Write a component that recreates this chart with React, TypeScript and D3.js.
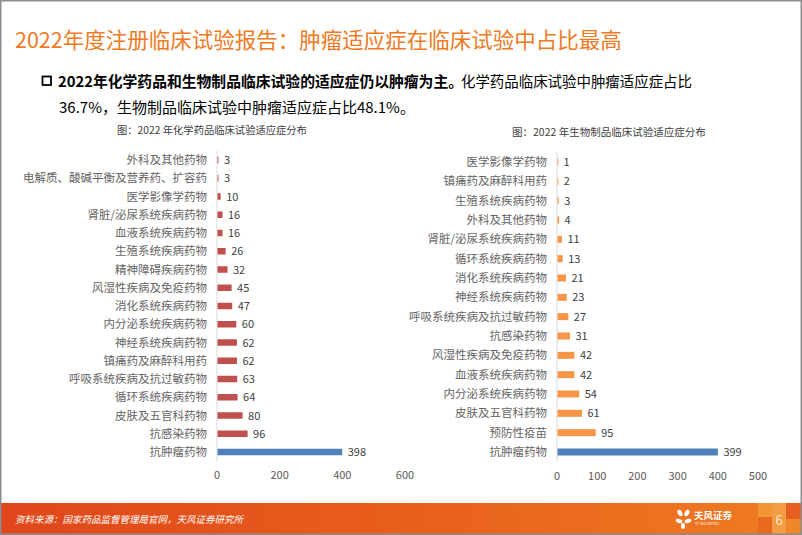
import { useEffect, useRef } from 'react';
import * as d3 from 'd3';

// 化学药品（2022）
const chemCategories = [
  '外科及其他药物',
  '电解质、酸碱平衡及营养药、扩容药',
  '医学影像学药物',
  '肾脏/泌尿系统疾病药物',
  '血液系统疾病药物',
  '生殖系统疾病药物',
  '精神障碍疾病药物',
  '风湿性疾病及免疫药物',
  '消化系统疾病药物',
  '内分泌系统疾病药物',
  '神经系统疾病药物',
  '镇痛药及麻醉科用药',
  '呼吸系统疾病及抗过敏药物',
  '循环系统疾病药物',
  '皮肤及五官科药物',
  '抗感染药物',
  '抗肿瘤药物',
];
const chemValues = [3, 3, 10, 16, 16, 26, 32, 45, 47, 60, 62, 62, 63, 64, 80, 96, 398];
const chemTicks = [0, 200, 400, 600];

// 生物制品（2022）
const bioCategories = [
  '医学影像学药物',
  '镇痛药及麻醉科用药',
  '生殖系统疾病药物',
  '外科及其他药物',
  '肾脏/泌尿系统疾病药物',
  '循环系统疾病药物',
  '消化系统疾病药物',
  '神经系统疾病药物',
  '呼吸系统疾病及抗过敏药物',
  '抗感染药物',
  '风湿性疾病及免疫药物',
  '血液系统疾病药物',
  '内分泌系统疾病药物',
  '皮肤及五官科药物',
  '预防性疫苗',
  '抗肿瘤药物',
];
const bioValues = [1, 2, 3, 4, 11, 13, 21, 23, 27, 31, 42, 42, 54, 61, 95, 399];
const bioTicks = [0, 100, 200, 300, 400, 500];

const FONT = '"Noto Sans CJK SC", "Noto Sans", sans-serif';

type BarOpts = {
  x0: number;
  x1: number;
  max: number;
  yTop: number;
  yBottom: number;
  barH: number;
  color: string;
  tickY: number;
  ticks: number[];
};

function drawBars(svg: any, cats: string[], vals: number[], o: BarOpts) {
  const x = d3.scaleLinear().domain([0, o.max]).range([o.x0, o.x1]);
  const y = d3.scalePoint<string>().domain(cats).range([o.yTop, o.yBottom]);
  const data = cats.map((c, i) => ({ c, v: vals[i] }));
  const g = svg.append('g');
  const half = (o.yBottom - o.yTop) / (cats.length - 1) / 2;

  g.append('line')
    .attr('x1', o.x0)
    .attr('x2', o.x0)
    .attr('y1', o.yTop - half)
    .attr('y2', o.yBottom + half)
    .attr('stroke', '#d9d9d9')
    .attr('stroke-width', 1);

  g.selectAll('rect.bar')
    .data(data)
    .enter()
    .append('rect')
    .attr('class', 'bar')
    .attr('x', o.x0 + 0.5)
    .attr('y', (d: any) => (y(d.c) as number) - o.barH / 2)
    .attr('width', (d: any) => Math.max(x(d.v) - o.x0, 0.8))
    .attr('height', o.barH)
    .attr('fill', (d: any) => (d.c === '抗肿瘤药物' ? '#4f81bd' : o.color));

  g.selectAll('text.val')
    .data(data)
    .enter()
    .append('text')
    .attr('class', 'val')
    .attr('x', (d: any) => x(d.v) + 6)
    .attr('y', (d: any) => (y(d.c) as number) + 4)
    .attr('font-size', 11)
    .attr('fill', '#404040')
    .text((d: any) => d.v);

  g.selectAll('text.cat')
    .data(data)
    .enter()
    .append('text')
    .attr('class', 'cat')
    .attr('x', o.x0 - 10)
    .attr('y', (d: any) => (y(d.c) as number) + 4)
    .attr('text-anchor', 'end')
    .attr('font-size', 11.5)
    .attr('fill', '#646464')
    .text((d: any) => d.c);

  g.selectAll('text.tick')
    .data(o.ticks)
    .enter()
    .append('text')
    .attr('class', 'tick')
    .attr('x', (d: number) => x(d))
    .attr('y', o.tickY)
    .attr('text-anchor', 'middle')
    .attr('font-size', 11)
    .attr('fill', '#595959')
    .text((d: number) => d);
}

const App = () => {
  const svgRef = useRef<SVGSVGElement>(null);

  useEffect(() => {
    const svg = d3.select(svgRef.current);
    svg.selectAll('*').remove();
    svg.attr('font-family', FONT);

    const defs = svg.append('defs');
    const grad = defs.append('linearGradient').attr('id', 'footGrad').attr('x1', 0).attr('x2', 1);
    grad.append('stop').attr('offset', '0%').attr('stop-color', '#e0461a');
    grad.append('stop').attr('offset', '55%').attr('stop-color', '#e9611c');
    grad.append('stop').attr('offset', '100%').attr('stop-color', '#ef7c22');

    svg.append('rect').attr('width', 802).attr('height', 535).attr('fill', '#ffffff');

    // title
    svg
      .append('text')
      .attr('x', 15)
      .attr('y', 48)
      .attr('font-size', 21.5)
      .attr('fill', '#ee7a24')
      .text('2022年度注册临床试验报告：肿瘤适应症在临床试验中占比最高');

    // bullet
    svg
      .append('rect')
      .attr('x', 42.5)
      .attr('y', 76.5)
      .attr('width', 8.5)
      .attr('height', 8.5)
      .attr('fill', 'none')
      .attr('stroke', '#000')
      .attr('stroke-width', 1.8);

    svg
      .append('text')
      .attr('x', 58)
      .attr('y', 87)
      .attr('font-size', 15)
      .attr('font-weight', 'bold')
      .attr('fill', '#000')
      .attr('textLength', 405)
      .attr('lengthAdjust', 'spacingAndGlyphs')
      .text('2022年化学药品和生物制品临床试验的适应症仍以肿瘤为主。');
    svg
      .append('text')
      .attr('x', 461)
      .attr('y', 87)
      .attr('font-size', 15)
      .attr('fill', '#000')
      .attr('textLength', 231)
      .attr('lengthAdjust', 'spacingAndGlyphs')
      .text('化学药品临床试验中肿瘤适应症占比');
    svg
      .append('text')
      .attr('x', 59)
      .attr('y', 113)
      .attr('font-size', 15)
      .attr('fill', '#000')
      .text('36.7%，生物制品临床试验中肿瘤适应症占比48.1%。');

    // chart subtitles
    svg
      .append('text')
      .attr('x', 117)
      .attr('y', 134)
      .attr('font-size', 10.3)
      .attr('fill', '#404040')
      .text('图：2022 年化学药品临床试验适应症分布');
    svg
      .append('text')
      .attr('x', 512)
      .attr('y', 136)
      .attr('font-size', 10.5)
      .attr('fill', '#404040')
      .text('图：2022 年生物制品临床试验适应症分布');

    drawBars(svg, chemCategories, chemValues, {
      x0: 217,
      x1: 405,
      max: 600,
      yTop: 160,
      yBottom: 452,
      barH: 6.5,
      color: '#c0504d',
      tickY: 479,
      ticks: chemTicks,
    });

    drawBars(svg, bioCategories, bioValues, {
      x0: 557,
      x1: 758,
      max: 500,
      yTop: 162,
      yBottom: 452,
      barH: 7,
      color: '#f79646',
      tickY: 480,
      ticks: bioTicks,
    });

    // footer
    svg.append('rect').attr('x', 0).attr('y', 503).attr('width', 802).attr('height', 32).attr('fill', 'url(#footGrad)');
    const blocks = [
      [758, 503, 14, 14, '#f19a3a'],
      [772, 503, 14, 32, '#f3a24a'],
      [786, 503, 16, 16, '#e55a20'],
      [786, 519, 16, 16, '#f08a2c'],
      [758, 517, 14, 18, '#e8661e'],
    ];
    blocks.forEach((b) => {
      svg
        .append('rect')
        .attr('x', b[0] as number)
        .attr('y', b[1] as number)
        .attr('width', b[2] as number)
        .attr('height', b[3] as number)
        .attr('fill', b[4] as string)
        .attr('opacity', 0.85);
    });
    svg
      .append('text')
      .attr('x', 779)
      .attr('y', 525)
      .attr('text-anchor', 'middle')
      .attr('font-size', 13)
      .attr('fill', '#fde3c8')
      .text('6');

    svg
      .append('text')
      .attr('x', 15)
      .attr('y', 523)
      .attr('font-size', 9.5)
      .attr('font-style', 'italic')
      .attr('fill', '#ffffff')
      .text('资料来源：国家药品监督管理局官网，天风证券研究所');

    // logo
    const logo = svg.append('g').attr('transform', 'translate(684,519)').attr('fill', '#ffffff');
    logo.append('ellipse').attr('cx', -4).attr('cy', -6).attr('rx', 2.2).attr('ry', 3.5).attr('transform', 'rotate(-30,-4,-6)');
    logo.append('ellipse').attr('cx', 3).attr('cy', -6).attr('rx', 2.2).attr('ry', 3.5).attr('transform', 'rotate(30,3,-6)');
    logo.append('ellipse').attr('cx', -5).attr('cy', 2).attr('rx', 3.5).attr('ry', 2).attr('transform', 'rotate(20,-5,2)');
    logo.append('ellipse').attr('cx', 4).attr('cy', 2).attr('rx', 3.5).attr('ry', 2).attr('transform', 'rotate(-20,4,2)');
    logo.append('ellipse').attr('cx', -1).attr('cy', 7).attr('rx', 2).attr('ry', 3);
    logo.append('text').attr('x', 10).attr('y', 0).attr('font-size', 9.5).attr('font-weight', 'bold').text('天风证券');
    logo.append('text').attr('x', 11).attr('y', 6).attr('font-size', 3.5).text('TF SECURITIES');

    // slide frame
    svg
      .append('rect')
      .attr('x', 0.75)
      .attr('y', 0.75)
      .attr('width', 800.5)
      .attr('height', 533.5)
      .attr('fill', 'none')
      .attr('stroke', '#8c8c8c')
      .attr('stroke-width', 1.5);
  }, []);

  return (
    <svg
      ref={svgRef}
      width="802"
      height="535"
      style={{ position: 'fixed', left: 0, top: 0, display: 'block' }}
    ></svg>
  );
};

export default App;
